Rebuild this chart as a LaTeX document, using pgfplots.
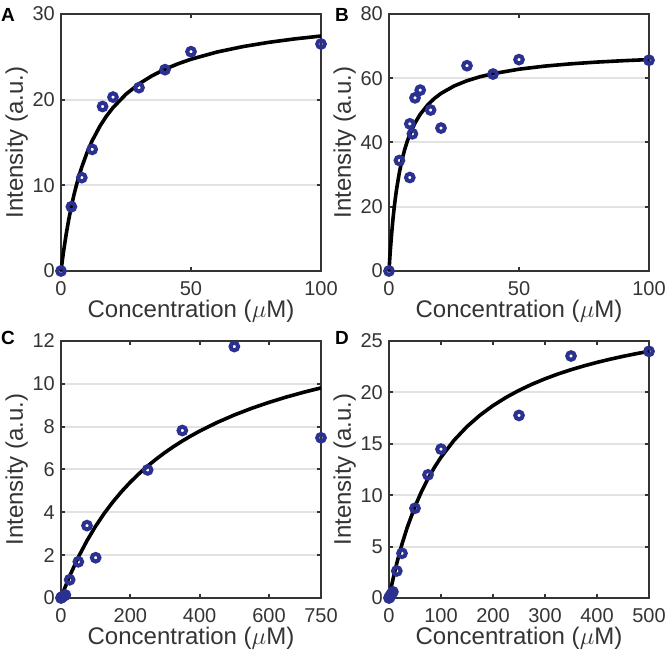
\documentclass[border=0pt]{standalone}
\usepackage{pgfplots}
\pgfplotsset{compat=1.18}
\usepackage{fontspec}
\setmainfont{Liberation Sans}
\definecolor{axgray}{RGB}{52,52,52}
\definecolor{gridgray}{RGB}{226,226,226}
\definecolor{mkblue}{RGB}{43,49,145}
\pgfplotsset{
  panel/.style={
    scale only axis, width=260bp, height=257bp,
    clip=false,
    axis line style={axgray, line width=2.4bp},
    tick style={axgray, line width=2bp},
    major tick length=4bp,
    tick align=inside,
    ymajorgrids,
    grid style={gridgray, line width=2bp},
    /pgf/number format/assume math mode=true,
    tick label style={font=\fontsize{20bp}{24bp}\selectfont, text=axgray, inner sep=0pt},
    xticklabel style={anchor=north, yshift=-10bp},
    yticklabel style={anchor=east, xshift=-6bp},
    label style={font=\fontsize{24bp}{28bp}\selectfont, text=axgray, inner sep=0pt},
    xlabel={Concentration ($\mu$M)},
    ylabel={Intensity (a.u.)},
    xlabel style={at={(rel axis cs:0.5,-0.113)}, anchor=north},
    ylabel style={at={(rel axis cs:-0.127,0.5)}, anchor=south},
  },
  dots/.style={only marks, mark=o, mark size=3.8bp, mark options={draw=mkblue, line width=4bp, fill=none}},
  fitline/.style={black, line width=3.6bp, no marks, line join=round},
}
\begin{document}
\begin{tikzpicture}
\useasboundingbox (0,0) rectangle (666bp,652bp);
% Panel A
\begin{axis}[panel, at={(61bp,381bp)}, anchor=south west,
  xmin=0, xmax=100, ymin=0, ymax=30, xtick={0,50,100}, ytick={0,10,20,30}]
\addplot[fitline] coordinates {(0,0) (0.5,1.203) (1,2.316) (2,4.308) (3,6.039) (4,7.558) (5,8.904) (6,10.098) (7,11.170) (8,12.138) (10,13.812) (12,15.210) (15,16.923) (17.5,18.089) (20,19.071) (25,20.643) (30,21.844) (35,22.788) (40,23.556) (45,24.188) (50,24.719) (60,25.560) (70,26.197) (80,26.696) (90,27.097) (100,27.427)};
\addplot[dots] coordinates {(0,0) (4,7.5) (8,10.9) (12,14.2) (16,19.2) (20,20.3) (30,21.4) (40,23.5) (50,25.6) (100,26.5)};
\end{axis}
% Panel B
\begin{axis}[panel, at={(389bp,381bp)}, anchor=south west,
  xmin=0, xmax=100, ymin=0, ymax=80, xtick={0,50,100}, ytick={0,20,40,60,80}]
\addplot[fitline] coordinates {(0,0) (0.25,3.29) (0.5,6.282) (1,11.517) (1.5,15.95) (2,19.743) (2.5,23.033) (3,25.913) (4,30.711) (5,34.55) (6,37.691) (7,40.308) (8,42.523) (10,46.067) (12,48.776) (15,51.825) (17.5,53.744) (20,55.28) (25,57.583) (30,59.229) (35,60.463) (40,61.422) (50,62.818) (60,63.785) (70,64.493) (80,65.035) (90,65.463) (100,65.810)};
\addplot[dots] coordinates {(0,0) (4,34.4) (8,29.1) (8,45.8) (9,42.7) (10,53.9) (12,56.3) (16,50.1) (20,44.5) (30,63.9) (40,61.3) (50,65.8) (100,65.6)};
\end{axis}
% Panel C
\begin{axis}[panel, at={(61bp,54bp)}, anchor=south west,
  xmin=0, xmax=750, ymin=0, ymax=12, xtick={0,200,400,600,750}, ytick={0,2,4,6,8,10,12}]
\addplot[fitline] coordinates {(0,0) (10,0.4286) (25,1.0243) (50,1.9082) (75,2.6788) (100,3.3566) (125,3.9574) (150,4.4935) (175,4.9750) (200,5.4097) (225,5.8050) (250,6.1637) (275,6.4911) (300,6.7951) (325,7.0731) (350,7.3316) (375,7.5711) (400,7.7930) (450,8.1941) (500,8.5460) (550,8.8572) (600,9.1344) (650,9.3829) (700,9.6069) (750,9.8099)};
\addplot[dots] coordinates {(0,0) (1,0.02) (2.5,0.04) (5,0.07) (10,0.12) (12.5,0.14) (25,0.85) (50,1.69) (75,3.38) (100,1.88) (250,5.98) (350,7.82) (500,11.74) (750,7.48)};
\end{axis}
% Panel D
\begin{axis}[panel, at={(389bp,54bp)}, anchor=south west,
  xmin=0, xmax=500, ymin=0, ymax=25, xtick={0,100,200,300,400,500}, ytick={0,5,10,15,20,25}]
\addplot[fitline] coordinates {(0,0) (5,1.2225) (10,2.348) (15,3.387) (20,4.349) (25,5.245) (35,6.856) (50,8.909) (62.5,10.356) (75,11.613) (87.5,12.716) (100,13.692) (125,15.338) (150,16.676) (175,17.783) (200,18.715) (225,19.510) (250,20.197) (275,20.796) (300,21.322) (325,21.790) (350,22.206) (375,22.581) (400,22.919) (425,23.226) (450,23.506) (475,23.762) (500,23.997)};
\addplot[dots] coordinates {(0,0) (1,0.08) (2,0.15) (3.75,0.3) (5,0.4) (7.5,0.6) (15,2.63) (25,4.35) (50,8.73) (75,11.98) (100,14.48) (250,17.76) (350,23.54) (500,23.99)};
\end{axis}
% Panel letters
\node[anchor=north west, inner sep=0pt, font=\fontsize{19bp}{22bp}\selectfont\bfseries] at (1bp,644bp) {A};
\node[anchor=north west, inner sep=0pt, font=\fontsize{19bp}{22bp}\selectfont\bfseries] at (335bp,644bp) {B};
\node[anchor=north west, inner sep=0pt, font=\fontsize{19bp}{22bp}\selectfont\bfseries] at (1bp,321bp) {C};
\node[anchor=north west, inner sep=0pt, font=\fontsize{19bp}{22bp}\selectfont\bfseries] at (335bp,321bp) {D};
\end{tikzpicture}
\end{document}
